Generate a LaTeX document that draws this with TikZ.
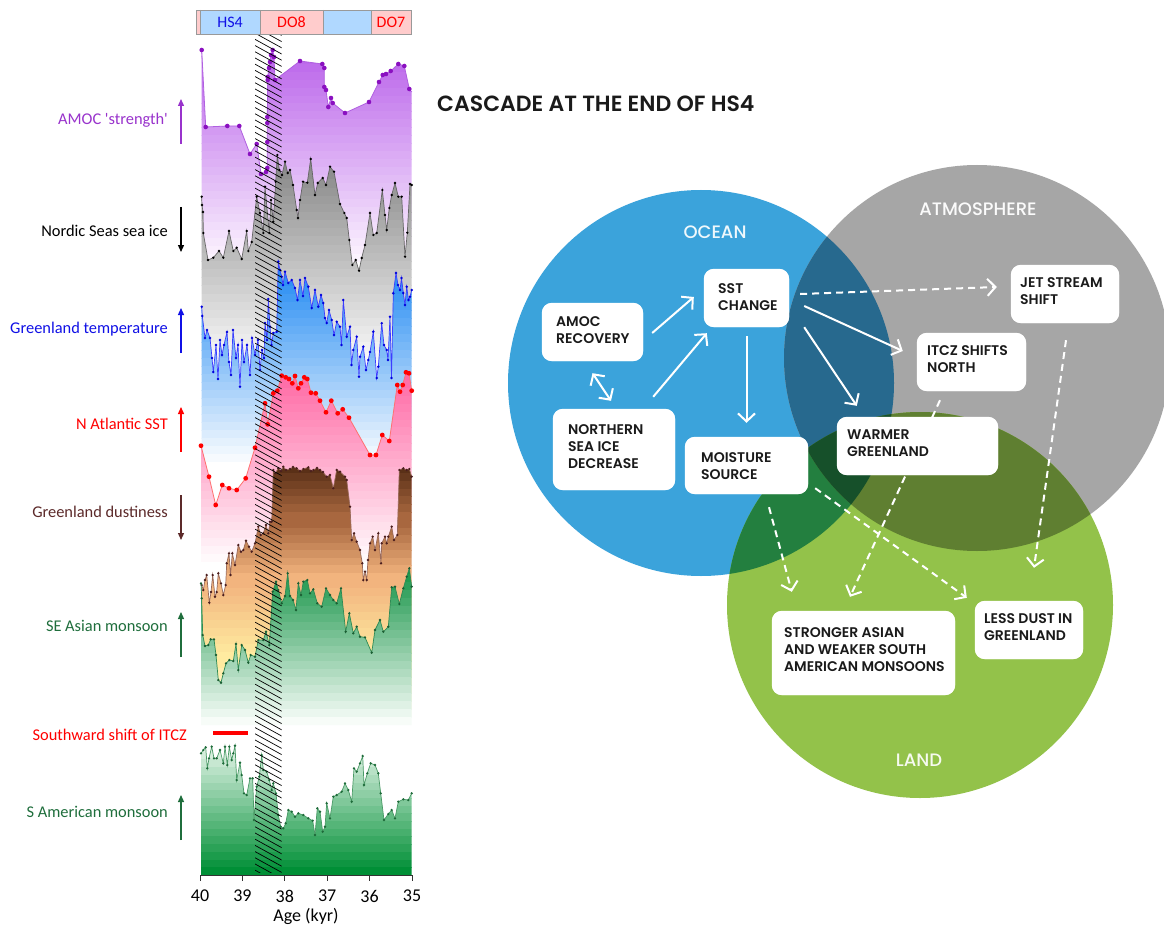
\documentclass[tikz,border=0pt]{standalone}
\usepackage{fontspec}
\setmainfont{Carlito}
\IfFontExistsTF{Poppins Medium}{\newfontfamily\vf{Poppins Medium}}{\newfontfamily\vf{Poppins}}
\IfFontExistsTF{Poppins SemiBold}{\newfontfamily\vft{Poppins SemiBold}}{\newfontfamily\vft{Poppins}}
\usetikzlibrary{arrows.meta,calc}
% colours
\definecolor{ocean}{HTML}{3BA3DB}
\definecolor{atmos}{HTML}{A6A6A6}
\definecolor{land}{HTML}{93C24A}
\definecolor{oa}{HTML}{27698E}
\definecolor{ol}{HTML}{237F3F}
\definecolor{al}{HTML}{5F7F31}
\definecolor{oal}{HTML}{16502A}
\definecolor{txt}{HTML}{1A1A1A}
\definecolor{amocT}{HTML}{BA63EA}\definecolor{amocB}{HTML}{FBF3FE}
\definecolor{amocL}{HTML}{B060E0}\definecolor{amocD}{HTML}{8A10C0}
\definecolor{grayT}{HTML}{858585}
\definecolor{blueT}{HTML}{1E88F2}\definecolor{blueL}{HTML}{3C3CFF}\definecolor{blueD}{HTML}{0000DD}
\definecolor{pinkT}{HTML}{FF69A5}\definecolor{redL}{HTML}{FF7070}
\definecolor{dust1}{HTML}{5A3017}\definecolor{dust2}{HTML}{A8673F}\definecolor{dust3}{HTML}{F2B47E}\definecolor{dust4}{HTML}{FFEBA0}
\definecolor{dustL}{HTML}{9A6A5A}\definecolor{dustD}{HTML}{4B1E1E}
\definecolor{seT}{HTML}{169447}\definecolor{seB}{HTML}{F7FCF8}\definecolor{seL}{HTML}{2F8A55}\definecolor{seD}{HTML}{1B5E33}
\definecolor{saT}{HTML}{E3F4E7}\definecolor{saB}{HTML}{008F36}\definecolor{saL}{HTML}{4A9A66}\definecolor{saD}{HTML}{1E6B3A}
\definecolor{barblue}{HTML}{B0D8FF}\definecolor{barpink}{HTML}{FFCCCC}
\definecolor{labpurple}{HTML}{9933CC}\definecolor{labblue}{HTML}{1010E6}
\definecolor{labbrown}{HTML}{5C2A2A}\definecolor{labgreen}{HTML}{1F6E3C}
% band fill helper: ytop, ybot, top colour, bottom colour, n bands
\newcommand\bandfill[5]{%
  \foreach \i in {1,...,#5}{%
    \pgfmathsetmacro\ya{#1+(\i-1)*(#2-#1)/#5}%
    \pgfmathsetmacro\yb{#1+\i*(#2-#1)/#5+0.6}%
    \pgfmathsetmacro\pc{100-100*(\i-1)/(#5-1)}%
    \fill[#3!\pc!#4] (195,\ya) rectangle (415,\yb);
  }}
% data (x px / y px)
\def\amocdata{201.7/50, 205.7/127, 227.3/126, 239.3/126, 250/154, 256.7/144, 261/174, 266/172, 267.3/168, 267.3/142, 267.3/123, 267.3/117, 267.7/80, 267.7/77, 269/68, 270/62, 271/55, 272.7/50, 274/57, 275/80, 300/61, 322.3/64, 324.3/68, 324.3/87, 326/90, 328.3/107, 331/98, 332.7/103, 345/113, 369/102, 379/82, 382.7/75, 386/74, 390.7/71, 398.3/64, 404.3/66, 409.3/89}
\def\icedata{201.7/196.7, 202/205, 203/212, 203.3/233, 208/260, 213.3/257.7, 219/251, 223.3/257.7, 229/231, 233.3/251, 236.7/247.7, 241.7/259, 246.7/231, 248.3/251, 251.7/242, 256.7/196.7, 260/213, 263.3/233, 265/186.7, 269.3/233, 271/200, 273.3/221.7, 275.7/181.7, 277.3/155, 279.3/170, 282/175, 285/161.7, 287.7/173, 290/170, 293/185, 296.7/210, 298/218, 300/200, 303/181.7, 307.3/182.7, 310.7/159, 315/195, 317.7/183, 322.7/178, 326/185, 330/166.7, 334/171.7, 340/204, 344.3/213, 346.7/218, 349.3/240, 352.3/265, 355.7/260, 359/270.7, 361.7/258, 365/245, 370/213, 373.3/235, 376.7/233, 382.3/190, 385/215, 386.7/230, 389.3/208, 391.7/195, 395/183, 398.3/196.7, 401.7/196.7, 405/256.7, 407.3/232.7, 410/184, 411.7/185}
\def\tempdata{201.7/306.7, 202.3/316, 205/338, 207/330, 210/338, 212/358, 213.3/372, 216/345, 218/379, 220/340, 222/355, 224/345, 227/332, 229/362, 231/375, 233/330, 236/358, 238/345, 240/386.7, 242/340, 244/362, 247/345, 250/375, 252/338, 255/355, 258/340, 260/370, 262/350, 264/358, 265/323, 267/340, 268.3/299, 270/326.7, 271.5/345, 273.3/333, 276.7/331.7, 278.3/261.7, 280/270, 281.7/276.7, 283/285, 285/271.7, 288.3/283, 291.7/280, 295/288, 297.5/300, 300/280, 303/296, 305/278, 308.3/286.7, 311.7/308, 315/290, 318.3/306.7, 321/295, 323.3/303, 325/318, 326.7/323, 329/310, 331.7/320, 334/335, 336.7/321.7, 340/326.7, 341.5/345, 343.3/300, 346.7/336.7, 350/326.7, 351.5/365, 353.3/350, 356.7/336.7, 359/376.7, 360/356.7, 363.3/346.7, 366/370, 368.3/360, 370/352, 373.3/331.7, 376.7/378, 378.3/366.7, 381.7/323.3, 384/345, 386.7/350, 388/360, 390/316.7, 391.5/378, 393.3/293.3, 396/273, 398/285, 400/290, 401.5/278, 403.3/293, 405/305, 406.7/286.7, 408.5/300, 410/296.7, 411.7/290}
\def\sstdata{201/445.7, 209/476.7, 215.7/505, 222.3/485, 229/488.3, 236.7/490, 245.7/478.3, 255/447.7, 265/403.3, 267.7/424.3, 273.3/393.3, 277.3/390.7, 281.7/375.7, 285.7/377.3, 289/379, 292.3/383.3, 295/376, 298.3/388.3, 301/383.3, 304.3/377.3, 307.3/379, 311/392.7, 315.7/393.3, 320/400.7, 326/412.3, 331.3/400.7, 337.7/413.3, 342.7/409.3, 349/417.7, 370/455, 376/455, 382.3/435, 389.3/441, 397.3/385, 400/391.7, 402.7/385, 406/372.3, 409/373.3, 411.7/390.7}
\def\dustdata{201.7/585, 203.3/590, 205/580, 206.7/575, 209.3/602.7, 211/592, 212.7/575, 215/596.7, 216.7/592, 218.3/573.3, 221/583.3, 223.3/595, 225.7/585, 226.7/563.3, 229/553.3, 230.5/575, 232.3/553.3, 235/565, 238.3/545, 241/551.7, 243.3/550, 246/540.7, 249/546.7, 251.7/551.7, 255/543.3, 258.3/526.7, 260.7/535, 263.3/533.3, 266/525, 268.3/533.3, 270/521.7, 271.7/521.7, 273.3/470, 275.3/473.3, 278.3/468.3, 281/471, 283.3/466.7, 286/470, 290/469, 293/467, 296.7/468.3, 300/471, 303.3/469, 308.3/467.3, 311/471, 313.3/470, 317/468, 320/470, 323/472, 326.7/476.7, 330/475, 333.3/488.3, 336.7/470, 340/471.7, 345/476.7, 346.7/480, 350/506.7, 351.7/540, 354/533.3, 356.7/541.7, 360/550, 362.3/563.3, 363.3/580, 365/571.7, 366.7/580, 368/560, 370/543.3, 372.7/536.7, 375/550, 378.3/533.3, 381/563.3, 381.7/543.3, 385/536.7, 386.7/543.3, 388.3/536.7, 391.7/526.7, 394/540, 397.3/535, 399.3/470, 403.3/468.3, 406.7/470, 409.3/469, 411.7/476.7}
\def\sedata{201/583.3, 201.7/598.3, 202.7/635, 205/646, 208.3/645, 210.7/639.3, 214/639.3, 216/655, 218.3/680, 221/682.7, 223.3/673.3, 226/663.3, 229.3/660, 233.3/661, 236/644, 238.3/670, 241.7/645, 245/650, 248.3/662.7, 250.7/655, 255/656.7, 258.3/640, 263.3/640, 266/631.7, 269.3/645, 272.7/591.7, 276/581.7, 278.3/590, 281.7/603.3, 285/596, 287.7/573.3, 290/596, 293/600, 296/610, 298.3/583.3, 301/595, 303.3/581.7, 307.3/580, 310/593.3, 313.3/589.3, 317.3/603.3, 321.7/606.7, 326/588.3, 330/595, 333.3/600, 336.7/603.3, 341/588.3, 345.7/631.7, 349.3/613.3, 353.3/633.3, 356.7/626.7, 360/636.7, 365/637.3, 371.7/652.7, 375/630, 380/620, 383.3/631.7, 388.3/626.7, 391.7/587.3, 395/586.7, 399.3/604, 403.3/588.3, 406.7/576.7, 409.3/568.3, 411.7/586.7}
\def\sadata{201/753.3, 203.3/750, 205.7/747.3, 207.3/768.3, 209/758.3, 211.7/746.7, 214/758.3, 216.7/758.3, 220/750, 223.3/763.3, 225/746.7, 227.3/765, 229.3/746.7, 231.7/760, 233.3/753.3, 235/745.7, 236.7/780, 240/762.7, 241.7/775, 244/793.3, 246.7/795, 250/778.3, 252.7/778.3, 254/820, 256.7/786.7, 259.3/776.7, 261.7/755, 263.3/770, 266.7/771.7, 269.3/780, 271.7/790, 273.3/783.3, 276/793.3, 278.3/815, 280.7/826.7, 283.3/828.3, 285.7/823.3, 288.3/810, 291.7/811.7, 295/816.7, 298.3/813.3, 303.3/815, 308.3/818.3, 312.7/820.7, 315/835, 317.3/808.3, 320/811.7, 322.7/831.7, 325/826.7, 326.7/803.3, 330/818.3, 333.3/796.7, 336.7/795, 341.7/791.7, 345/783.3, 348.3/790, 351.7/801.7, 354/768.3, 356.7/771.7, 360/763.3, 362.7/756, 364/785, 367.3/773.3, 370.7/763.3, 375/765, 378.3/773.3, 380.7/793.3, 384/820, 388.3/814, 391.7/810, 395/818.3, 398.3/801.7, 403.3/799.3, 408.3/800, 411.7/793.3}
\tikzset{
  lab/.style={font=\fontsize{16.4}{19}\selectfont, anchor=east, inner sep=0pt},
  ticklab/.style={font=\fontsize{18}{21}\selectfont, inner sep=0pt},
  box/.style={fill=white, rounded corners=10pt, draw=none, inner sep=0pt},
  btext/.style={font=\vft\fontsize{14}{17}\selectfont, text=txt, align=left, anchor=north west, inner sep=0pt},
  arr/.style={draw=white, line width=2pt, -{Straight Barb[length=8pt,width=17pt]}},
  darr/.style={arr, dash pattern=on 7pt off 5pt},
  clab/.style={font=\vf\fontsize{18}{20}\selectfont, inner sep=0pt},
  updown/.style={line width=1.3pt, -{Triangle[length=7pt,width=6pt]}},
}
\begin{document}
\begin{tikzpicture}[x=1pt,y=-1pt]
\useasboundingbox (0,0) rectangle (1164,928);
\clip (0,0) rectangle (1164,928);
\fill[white] (0,0) rectangle (1164,928);

%================ LEFT: stacked records ================
% AMOC
\begin{scope}
  \clip (201.7,262) \foreach \x/\y in \amocdata {-- (\x,\y)} -- (411.7,92) -- (411.7,262) -- cycle;
  \bandfill{48}{262}{amocT}{amocB}{27}
\end{scope}
\draw[amocL, line width=0.8pt] (201.7,50) \foreach \x/\y in \amocdata {-- (\x,\y)} -- (411.7,92);
\foreach \x/\y in \amocdata {\fill[amocD] (\x,\y) circle (2.3pt);}
% Nordic sea ice
\begin{scope}
  \clip (201.7,375) \foreach \x/\y in \icedata {-- (\x,\y)} -- (411.7,375) -- cycle;
  \bandfill{155}{375}{grayT}{white}{27}
\end{scope}
\draw[black!60, line width=0.7pt] (201.7,196.7) \foreach \x/\y in \icedata {-- (\x,\y)};
\foreach \x/\y in \icedata {\fill[black] (\x,\y) circle (1.3pt);}
% Greenland temperature
\begin{scope}
  \clip (201.7,470) \foreach \x/\y in \tempdata {-- (\x,\y)} -- (411.7,470) -- cycle;
  \bandfill{262}{470}{blueT}{white}{26}
\end{scope}
\draw[blueL, line width=0.7pt] (201.7,306.7) \foreach \x/\y in \tempdata {-- (\x,\y)};
\foreach \x/\y in \tempdata {\fill[blueD] (\x,\y) circle (1.4pt);}
% N Atlantic SST
\begin{scope}
  \clip (201,570) \foreach \x/\y in \sstdata {-- (\x,\y)} -- (411.7,570) -- cycle;
  \bandfill{372}{570}{pinkT}{white}{25}
\end{scope}
\draw[redL, line width=0.8pt] (201,445.7) \foreach \x/\y in \sstdata {-- (\x,\y)};
\foreach \x/\y in \sstdata {\fill[red] (\x,\y) circle (2.4pt);}
% Greenland dustiness
\begin{scope}
  \clip (201.7,725) \foreach \x/\y in \dustdata {-- (\x,\y)} -- (411.7,725) -- cycle;
  \fill[dust1] (195,440) rectangle (415,466);
  \bandfill{465}{520}{dust1}{dust2}{7}
  \bandfill{520}{580}{dust2}{dust3}{8}
  \bandfill{580}{660}{dust3}{dust4}{10}
  \bandfill{660}{725}{dust4}{white}{8}
\end{scope}
\draw[dustL, line width=0.7pt] (201.7,585) \foreach \x/\y in \dustdata {-- (\x,\y)};
\foreach \x/\y in \dustdata {\fill[dustD] (\x,\y) circle (1.3pt);}
% SE Asian monsoon
\begin{scope}
  \clip (201,725) \foreach \x/\y in \sedata {-- (\x,\y)} -- (411.7,725) -- cycle;
  \bandfill{566}{725}{seT}{seB}{20}
\end{scope}
\draw[seL, line width=0.7pt] (201,583.3) \foreach \x/\y in \sedata {-- (\x,\y)};
\foreach \x/\y in \sedata {\fill[seD] (\x,\y) circle (1.3pt);}
% Southward shift of ITCZ bar
\draw[red, line width=4pt] (213,733) -- (248,733);
% S American monsoon
\begin{scope}
  \clip (201,875) \foreach \x/\y in \sadata {-- (\x,\y)} -- (411.7,875) -- cycle;
  \bandfill{744}{875}{saT}{saB}{17}
\end{scope}
\draw[saL, line width=0.7pt] (201,753.3) \foreach \x/\y in \sadata {-- (\x,\y)};
\foreach \x/\y in \sadata {\fill[saD] (\x,\y) circle (1.3pt);}

% hatched interval
\begin{scope}
  \clip (255,34) rectangle (281.5,872);
  \foreach \k in {0,...,145} \draw[black, line width=0.7pt] (250,{18+\k*6.2}) -- (290,{18+\k*6.2+22});
\end{scope}

% top bar
\fill[barpink] (196,10) rectangle (200,34);
\fill[barblue] (200,10) rectangle (260,34);
\fill[barpink] (260,10) rectangle (323,34);
\fill[barblue] (323,10) rectangle (371,34);
\fill[barpink] (371,10) rectangle (411,34);
\draw[black!40, line width=0.6pt] (196,10) rectangle (411,34);
\foreach \xx in {200,260,323,371} \draw[black!40, line width=0.6pt] (\xx,10) -- (\xx,34);
\node[font=\fontsize{16}{18}\selectfont, text=labblue, inner sep=0pt] (hs4) at (230,22) {HS4};
\node[font=\fontsize{16}{18}\selectfont, text=red, inner sep=0pt] (do8) at (291.5,22) {DO8};
\node[font=\fontsize{16}{18}\selectfont, text=red, inner sep=0pt] (do7) at (391,22) {DO7};

% axis
\draw[black!80, line width=0.8pt] (200,875) -- (412,875);
\foreach \i/\t in {0/40,1/39,2/38,3/37,4/36,5/35}{
  \draw[black!80, line width=0.8pt] ({200+\i*42.4},875) -- ({200+\i*42.4},881);
  \node[ticklab] (tick\i) at ({200+\i*42.4},896) {\t};
}
\node[ticklab] (agelab) at (306,916) {Age (kyr)};

% left labels + direction arrows
\node[lab, text=labpurple] (l1) at (168,120) {AMOC \textquotesingle strength\textquotesingle};
\draw[updown, labpurple] (181,144) -- (181,99);
\node[lab, text=black] (l2) at (168,231) {Nordic Seas sea ice};
\draw[updown, black] (181,207) -- (181,252);
\node[lab, text=labblue] (l3) at (168,329) {Greenland temperature};
\draw[updown, labblue] (181,353) -- (181,308);
\node[lab, text=red] (l4) at (168,424) {N Atlantic SST};
\draw[updown, red] (181,452) -- (181,407);
\node[lab, text=labbrown] (l5) at (168,512) {Greenland dustiness};
\draw[updown, labbrown] (181,495) -- (181,540);
\node[lab, text=labgreen] (l6) at (168,626) {SE Asian monsoon};
\draw[updown, labgreen] (181,657) -- (181,612);
\node[lab, text=red] (l7) at (187,735) {Southward shift of ITCZ};
\node[lab, text=labgreen] (l8) at (168,812) {S American monsoon};
\draw[updown, labgreen] (181,840) -- (181,795);

%================ RIGHT: Venn cascade ================
\node[font=\vft\fontsize{22}{24}\selectfont, text=txt, anchor=west, inner sep=0pt] (title) at (437,104) {CASCADE AT THE END OF HS4};

\fill[ocean] (701,383) circle (193pt);
\fill[atmos] (977,358) circle (193pt);
\fill[land] (920,605) circle (193pt);
\begin{scope}\clip (701,383) circle (193pt); \fill[oa] (977,358) circle (193pt); \end{scope}
\begin{scope}\clip (701,383) circle (193pt); \fill[ol] (920,605) circle (193pt); \end{scope}
\begin{scope}\clip (977,358) circle (193pt); \fill[al] (920,605) circle (193pt); \end{scope}
\begin{scope}\clip (701,383) circle (193pt); \clip (977,358) circle (193pt); \fill[oal] (920,605) circle (193pt); \end{scope}

\node[clab, text=white!92!ocean] (oceanlab) at (715,232) {OCEAN};
\node[clab, text=white!95!atmos] (atmolab) at (978,209) {ATMOSPHERE};
\node[clab, text=white!92!land] (landlab) at (919,760) {LAND};

% boxes (shapes)
\node[box, minimum width=101pt, minimum height=58pt] (amoc) at (592.5,332) {};
\node[box, minimum width=122pt, minimum height=81pt] (nsi) at (614,449.5) {};
\node[box, minimum width=85pt, minimum height=58pt] (sst) at (746.5,298) {};
\node[box, minimum width=123pt, minimum height=57pt] (moist) at (746.5,465.5) {};
\node[box, minimum width=108pt, minimum height=58pt] (jet) at (1065,294) {};
\node[box, minimum width=109pt, minimum height=58pt] (itcz) at (971.5,362) {};
\node[box, minimum width=161pt, minimum height=58pt] (warm) at (917.5,446) {};
\node[box, minimum width=183pt, minimum height=84pt] (strong) at (863.5,653) {};
\node[box, minimum width=108pt, minimum height=58pt] (less) at (1029,630) {};

% connectors
\draw[arr] ($(amoc.east)+(9,1)$) -- ($(sst.west)+(-10,-1)$);
\draw[arr] ($(nsi.north east)+(-22,-12)$) -- ($(sst.south west)+(3,6)$);
\draw[arr, {Straight Barb[length=8pt,width=17pt]}-{Straight Barb[length=8pt,width=17pt]}] ($(amoc.south)+(0,12)$) -- ($(nsi.north)+(-3,-8)$);
\draw[arr] ($(sst.south)+(0,9)$) -- ($(moist.north)+(0,-14)$);
\draw[darr] ($(sst.east)+(11,-4)$) -- ($(jet.west)+(-14,-7)$);
\draw[arr] ($(sst.east)+(15,8)$) -- ($(itcz.west)+(-14,-11)$);
\draw[arr] ($(sst.south east)+(15,0)$) -- ($(warm.north west)+(20,-11)$);
\draw[darr] ($(moist.south)+(22.5,13)$) -- ($(strong.north west)+(20,-19)$);
\draw[darr] ($(moist.south east)+(7,-6)$) -- ($(less.north west)+(-8,-3)$);
\draw[darr] ($(itcz.south)+(-31.5,9)$) -- ($(strong.north)+(-13.5,-14)$);
\draw[darr] ($(jet.south)+(1,17)$) -- ($(less.north)+(5,-33)$);

% box fills on top of connectors
\foreach \b in {amoc,nsi,sst,moist,jet,itcz,warm,strong,less}
  \fill[white, rounded corners=10pt] (\b.south west) rectangle (\b.north east);

% box texts
\node[btext] (amoct) at (556,316) {AMOC\\RECOVERY};
\node[btext] (nsit) at (568,424) {NORTHERN\\SEA ICE\\DECREASE};
\node[btext] (sstt) at (718,283) {SST\\CHANGE};
\node[btext] (moistt) at (701,452) {MOISTURE\\SOURCE};
\node[btext] (jett) at (1020,277) {JET STREAM\\SHIFT};
\node[btext] (itczt) at (927,345) {ITCZ SHIFTS\\NORTH};
\node[btext] (warmt) at (847,430) {WARMER\\GREENLAND};
\node[btext] (strongt) at (784,627) {STRONGER ASIAN\\AND WEAKER SOUTH\\AMERICAN MONSOONS};
\node[btext] (lesst) at (984,613) {LESS DUST IN\\GREENLAND};
\end{tikzpicture}
\end{document}
